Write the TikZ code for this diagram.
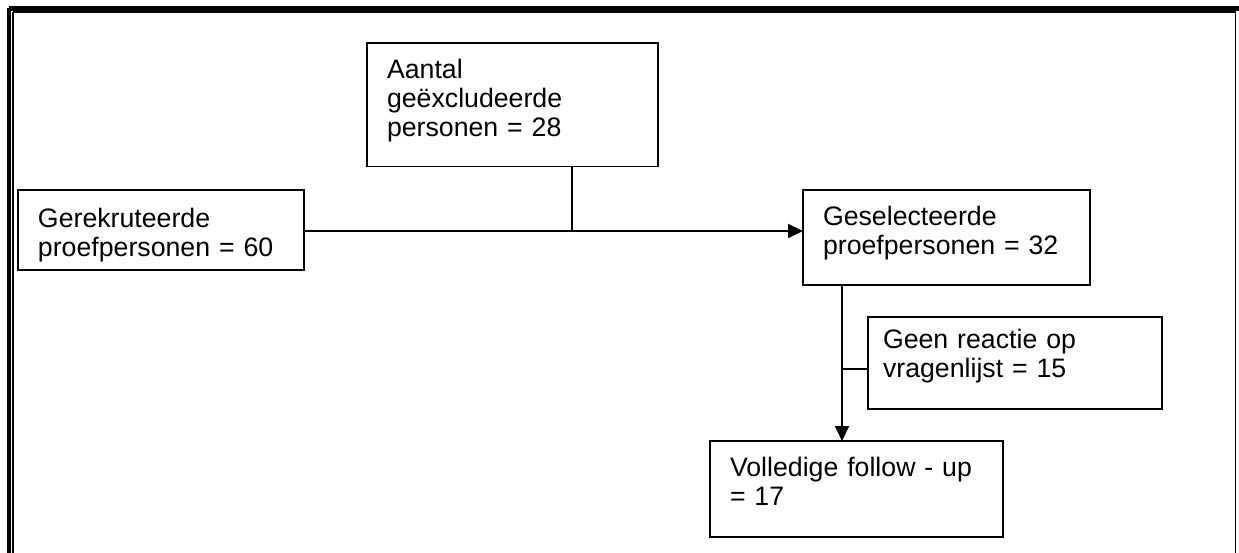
\documentclass[tikz,border=0pt]{standalone}
\usepackage{fontspec}
\setmainfont{Liberation Sans}
\usetikzlibrary{arrows.meta, positioning}

\begin{document}
\begin{tikzpicture}[
    x=0.02cm, y=-0.02cm,
    box/.style={
        rectangle,
        draw=black,
        line width=0.035cm,
        anchor=north west,
        align=left,
        inner xsep=0.4cm,
        inner ysep=0pt,
        outer sep=0pt,
        font=\fontsize{15.2}{16.5}\selectfont
    },
    arrow/.style={
        -{Triangle[length=0.3cm, width=0.28cm]},
        line width=0.04cm
    },
    line/.style={
        line width=0.035cm
    }
]
\useasboundingbox (0,0) rectangle (1239,553);

% Frame
\draw[line width=0.1cm] (9,8.25) -- (9,700) (9,8.25) -- (1241,8.25) -- (1241,700);
\draw[line width=0.03cm] (13,12) -- (13,700) (13,12) -- (1235.5,12) -- (1235.5,700);

% Boxes
\node[box, text width=4.92cm, text height=0.76cm, text depth=0.84cm] (recruited) at (18,190)
    {Gerekruteerde\\proefpersonen = 60};
\node[box, text width=5.02cm, text height=0.72cm, text depth=1.75cm] (excluded) at (367,43)
    {Aantal\\geëxcludeerde\\personen = 28};
\node[box, text width=4.94cm, text height=0.72cm, text depth=1.18cm] (selected) at (803,190)
    {Geselecteerde\\proefpersonen = 32};
\node[box, inner xsep=0.3cm, text width=5.28cm, text height=0.64cm, text depth=1.2cm] (noreply) at (868,317)
    {Geen reactie op\\vragenlijst = 15};
\node[box, text width=5.06cm, text height=0.72cm, text depth=1.2cm] (followup) at (710,441)
    {Volledige follow - up\\= 17};

% Connectors
\coordinate (join) at (572,231);
\coordinate (split) at (842,369);
\draw[arrow] (recruited.east |- join) -- (selected.west |- join);
\draw[line] (excluded.south -| join) -- (join);
\draw[arrow] (selected.south -| split) -- (followup.north -| split);
\draw[line] (split) -- (split -| noreply.west);

\end{tikzpicture}
\end{document}
